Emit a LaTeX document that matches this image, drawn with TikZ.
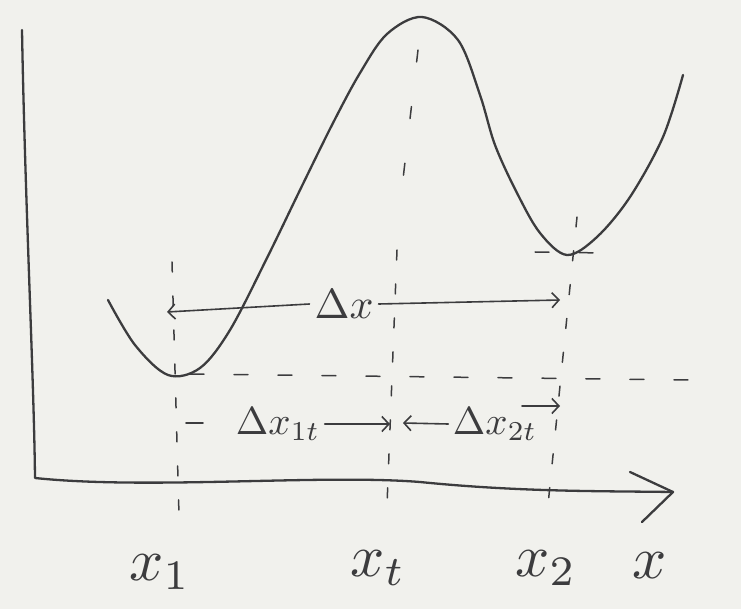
\documentclass[tikz,border=0pt]{standalone}
\usetikzlibrary{arrows.meta}
\definecolor{paper}{RGB}{241,241,237}
\definecolor{pen}{RGB}{60,60,62}
\begin{document}
\begin{tikzpicture}[x=1pt,y=-1pt,
  ink/.style={draw=pen,line width=2.3pt,line cap=round,line join=round},
  thin ink/.style={draw=pen,line width=1.6pt,line cap=round},
  guide/.style={draw=pen,line width=1.5pt,line cap=round,dash pattern=on 10pt off 24pt},
  sparse guide/.style={draw=pen,line width=1.5pt,line cap=round,dash pattern=on 12pt off 45pt},
  hguide/.style={draw=pen,line width=1.5pt,line cap=round,dash pattern=on 14pt off 30pt},
  tip/.style={-{Straight Barb[length=7pt,width=15pt,line width=1.6pt]}},
  lbl/.style={text=pen,inner sep=0pt,scale=6},
  dlbl/.style={text=pen,inner sep=1pt,scale=4.2},
  slbl/.style={text=pen,inner sep=1pt,scale=3.9}]
\fill[paper] (0,0) rectangle (741,609);
\useasboundingbox (0,0) rectangle (741,609);
% axes
\coordinate (ytop) at (22,30);
\coordinate (origin) at (35,478);
\coordinate (xend) at (673,492);
\draw[ink] (ytop) .. controls (25,200) and (34,380) .. (origin)
  .. controls (150,490) and (320,474) .. (420,482) .. controls (520,492) and (600,491) .. (xend);
\draw[ink] (630,472) -- (xend) -- (642,522);
% potential curve
\coordinate (min1) at (168,375);
\coordinate (peak) at (422,17);
\coordinate (min2) at (567,255);
\draw[ink] plot[smooth,tension=0.55] coordinates {(108,300) (135,345) (min1) (200,368) (230,330) (267,258) (300,190) (333,123) (360,73) (387,34) (peak) (458,40) (480,95) (495,145) (517,193) (540,233) (min2) (597,237) (630,197) (663,137) (683,75)};
% guides
\draw[hguide] (190,374) -- (690,380);
\draw[hguide] (535,252) -- (605,253);
\draw[guide] (172,262) -- (179,515);
\draw[sparse guide] (418,50) -- (400,205);
\draw[guide] (397,250) -- (387,505);
\draw[guide] (577,217) -- (548,505);
% labels on the x axis
\node[lbl] (lx1) at (160,572) {$x_1$};
\node[lbl] (lxt) at (378,568) {$x_t$};
\node[lbl] (lx2) at (546,568) {$x_2$};
\node[lbl] (lx) at (650,566) {$x$};
% Delta x arrow
\coordinate (dxl) at (167,312);
\coordinate (dxr) at (560,300);
\node[dlbl] (dx) at (344,304) {$\Delta x$};
\draw[thin ink,tip] (dx.west) -- (dxl);
\draw[thin ink,tip] (dx.east) -- (dxr);
% Delta x_1t and Delta x_2t
\coordinate (d1l) at (186,423);
\coordinate (d1r) at (390,424);
\coordinate (d2l) at (403,423);
\coordinate (d2a) at (522,406);
\coordinate (d2r) at (560,406);
\node[slbl] (dx1) at (278,424) {$\Delta x_{1t}$};
\node[slbl] (dx2) at (495,424) {$\Delta x_{2t}$};
\draw[thin ink] (d1l) -- (203,423);
\draw[thin ink,tip] (dx1.east) -- (d1r);
\draw[thin ink,tip] (dx2.west) -- (d2l);
\draw[thin ink,tip] (d2a) -- (d2r);
\end{tikzpicture}
\end{document}
